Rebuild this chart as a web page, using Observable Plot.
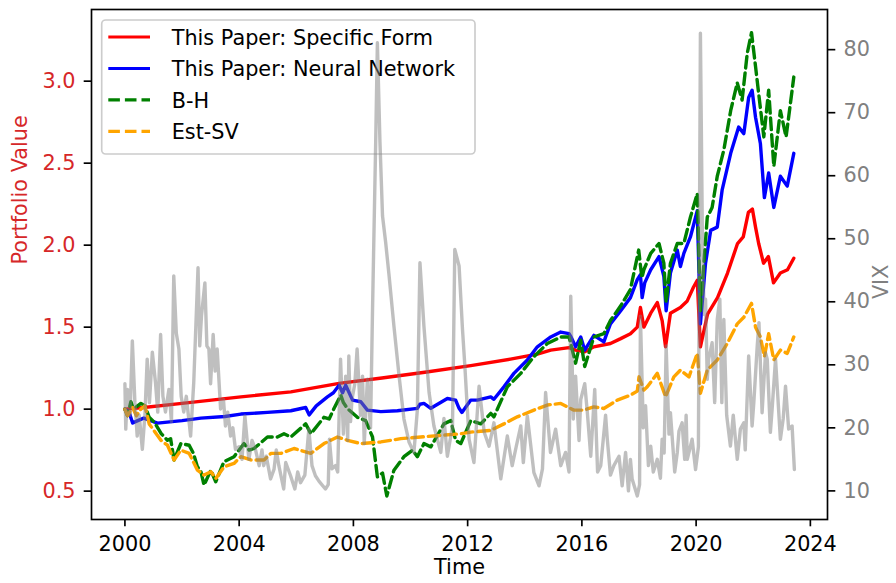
<!DOCTYPE html>
<html><head><meta charset="utf-8">
<script src="https://cdn.jsdelivr.net/npm/d3@7"></script>
<script src="https://cdn.jsdelivr.net/npm/@observablehq/plot@0.6"></script>
<style>body{margin:0;background:#fff;} #chart{width:896px;height:583px;}</style>
</head><body><div id="chart"></div>
<script>
// ---- data ----
const seriesNames = ["This Paper: Specific Form", "This Paper: Neural Network", "B-H", "Est-SV"];

const specificT = [2000.0, 2000.66, 2002.0, 2004.06, 2005.81, 2007.5, 2009.0, 2010.5, 2012.11, 2013.5, 2014.44, 2014.91, 2015.55, 2015.78, 2016.1, 2016.42, 2017.0, 2017.36, 2017.7, 2017.94, 2018.05, 2018.17, 2018.41, 2018.64, 2018.81, 2018.93, 2019.1, 2019.45, 2019.69, 2019.91, 2020.04, 2020.15, 2020.4, 2020.75, 2021.1, 2021.45, 2021.65, 2021.83, 2021.97, 2022.08, 2022.19, 2022.36, 2022.53, 2022.71, 2022.95, 2023.2, 2023.42];
const specificV = [1.0, 1.01, 1.035, 1.075, 1.105, 1.157, 1.19, 1.225, 1.265, 1.305, 1.335, 1.36, 1.375, 1.36, 1.35, 1.38, 1.40, 1.43, 1.46, 1.50, 1.62, 1.50, 1.585, 1.65, 1.54, 1.38, 1.585, 1.62, 1.66, 1.745, 1.785, 1.38, 1.58, 1.68, 1.83, 2.01, 2.05, 2.20, 2.22, 2.11, 2.01, 1.89, 1.93, 1.77, 1.83, 1.85, 1.92];

const neuralT = [2000.0, 2000.15, 2000.27, 2000.45, 2000.66, 2000.9, 2001.14, 2002.0, 2002.66, 2003.5, 2004.06, 2004.99, 2005.81, 2006.33, 2006.45, 2006.7, 2007.09, 2007.3, 2007.5, 2007.62, 2007.73, 2007.97, 2008.26, 2008.49, 2008.96, 2009.54, 2010.24, 2010.33, 2010.47, 2010.71, 2011.29, 2011.58, 2011.7, 2011.8, 2012.11, 2012.34, 2012.81, 2012.92, 2013.27, 2013.62, 2014.09, 2014.44, 2014.91, 2015.26, 2015.55, 2015.62, 2015.78, 2015.96, 2016.1, 2016.42, 2016.77, 2016.85, 2017.0, 2017.36, 2017.7, 2017.94, 2018.05, 2018.11, 2018.2, 2018.41, 2018.7, 2018.87, 2018.95, 2019.1, 2019.34, 2019.45, 2019.57, 2019.8, 2020.04, 2020.15, 2020.33, 2020.51, 2020.74, 2020.91, 2021.21, 2021.49, 2021.67, 2021.84, 2021.96, 2022.08, 2022.25, 2022.39, 2022.54, 2022.72, 2022.95, 2023.19, 2023.42];
const neuralV = [1.0, 0.98, 0.915, 0.93, 0.945, 0.93, 0.915, 0.93, 0.945, 0.955, 0.97, 0.98, 0.99, 1.01, 0.965, 1.02, 1.075, 1.10, 1.146, 1.10, 1.146, 1.055, 1.045, 0.994, 0.985, 0.99, 1.005, 1.03, 1.035, 1.005, 1.065, 1.055, 1.005, 0.98, 1.055, 1.055, 1.075, 1.06, 1.136, 1.218, 1.30, 1.38, 1.44, 1.47, 1.46, 1.44, 1.38, 1.44, 1.36, 1.45, 1.41, 1.45, 1.52, 1.60, 1.68, 1.79, 1.82, 1.68, 1.77, 1.85, 1.93, 1.81, 1.60, 1.83, 1.97, 1.87, 1.95, 2.05, 2.21, 1.52, 1.89, 2.09, 2.11, 2.335, 2.56, 2.72, 2.68, 2.90, 2.945, 2.78, 2.62, 2.29, 2.44, 2.23, 2.42, 2.36, 2.56];

const bhT = [2000.0, 2000.09, 2000.21, 2000.3, 2000.56, 2000.7, 2000.85, 2001.03, 2001.26, 2001.49, 2001.6, 2001.72, 2001.96, 2002.25, 2002.4, 2002.54, 2002.66, 2002.77, 2003.01, 2003.18, 2003.47, 2003.82, 2004.17, 2004.35, 2004.52, 2004.99, 2005.34, 2005.57, 2005.81, 2006.33, 2006.51, 2006.97, 2007.15, 2007.32, 2007.56, 2007.65, 2007.79, 2008.14, 2008.43, 2008.67, 2008.84, 2009.02, 2009.17, 2009.42, 2009.77, 2010.07, 2010.24, 2010.47, 2010.71, 2011.17, 2011.41, 2011.58, 2011.76, 2012.11, 2012.46, 2012.81, 2012.92, 2013.39, 2013.86, 2014.32, 2014.79, 2015.26, 2015.55, 2015.78, 2015.96, 2016.1, 2016.42, 2016.77, 2017.0, 2017.36, 2017.7, 2017.99, 2018.1, 2018.17, 2018.41, 2018.7, 2018.87, 2018.95, 2019.1, 2019.34, 2019.57, 2019.8, 2020.04, 2020.15, 2020.39, 2020.56, 2020.74, 2020.97, 2021.21, 2021.44, 2021.61, 2021.79, 2021.94, 2022.08, 2022.19, 2022.37, 2022.54, 2022.72, 2022.95, 2023.15, 2023.42];
const bhV = [1.0, 0.96, 1.045, 1.0, 1.035, 1.02, 0.95, 0.92, 0.853, 0.81, 0.82, 0.69, 0.79, 0.78, 0.73, 0.648, 0.62, 0.537, 0.628, 0.557, 0.68, 0.71, 0.79, 0.75, 0.76, 0.83, 0.83, 0.85, 0.83, 0.91, 0.85, 0.95, 0.94, 1.004, 1.085, 1.04, 1.004, 0.95, 0.93, 0.83, 0.587, 0.61, 0.47, 0.628, 0.71, 0.75, 0.71, 0.79, 0.77, 0.91, 0.93, 0.81, 0.79, 0.93, 0.91, 0.974, 0.953, 1.136, 1.218, 1.32, 1.40, 1.44, 1.44, 1.28, 1.42, 1.26, 1.44, 1.46, 1.54, 1.63, 1.73, 1.97, 1.80, 1.85, 1.95, 2.01, 1.89, 1.65, 1.89, 2.01, 2.01, 2.17, 2.315, 1.60, 2.17, 2.23, 2.42, 2.58, 2.82, 2.99, 2.885, 3.17, 3.296, 3.09, 2.925, 2.66, 2.945, 2.48, 2.82, 2.66, 3.025];

const estT = [2000.0, 2000.09, 2000.27, 2000.4, 2000.56, 2000.7, 2000.85, 2001.26, 2001.49, 2001.72, 2001.96, 2002.25, 2002.54, 2002.77, 2003.01, 2003.18, 2003.47, 2003.82, 2004.06, 2004.41, 2004.87, 2005.11, 2005.46, 2005.92, 2006.51, 2006.97, 2007.44, 2007.79, 2008.26, 2008.96, 2009.66, 2010.36, 2011.06, 2011.76, 2012.11, 2012.81, 2013.27, 2013.74, 2014.32, 2014.79, 2015.26, 2015.72, 2016.07, 2016.42, 2016.77, 2017.24, 2017.7, 2017.94, 2018.0, 2018.17, 2018.29, 2018.64, 2018.93, 2019.22, 2019.45, 2019.75, 2020.04, 2020.15, 2020.39, 2020.74, 2021.09, 2021.44, 2021.67, 2021.94, 2022.08, 2022.25, 2022.39, 2022.54, 2022.72, 2022.95, 2023.19, 2023.42];
const estV = [1.0, 0.96, 1.01, 0.96, 1.0, 1.02, 0.91, 0.81, 0.78, 0.69, 0.75, 0.73, 0.628, 0.598, 0.618, 0.577, 0.648, 0.669, 0.71, 0.69, 0.69, 0.73, 0.73, 0.76, 0.73, 0.79, 0.83, 0.81, 0.79, 0.80, 0.82, 0.83, 0.84, 0.85, 0.86, 0.87, 0.91, 0.953, 0.994, 1.025, 1.035, 0.994, 0.994, 1.014, 1.004, 1.055, 1.085, 1.11, 1.197, 1.116, 1.136, 1.218, 1.075, 1.197, 1.238, 1.197, 1.34, 1.096, 1.238, 1.30, 1.40, 1.52, 1.56, 1.645, 1.50, 1.44, 1.32, 1.46, 1.30, 1.36, 1.34, 1.44];

const vixT = [2000.00, 2000.03, 2000.09, 2000.18, 2000.26, 2000.35, 2000.43, 2000.50, 2000.61, 2000.70, 2000.78, 2000.86, 2000.96, 2001.07, 2001.15, 2001.25, 2001.33, 2001.42, 2001.54, 2001.63, 2001.71, 2001.80, 2001.89, 2001.97, 2002.06, 2002.15, 2002.30, 2002.41, 2002.56, 2002.62, 2002.68, 2002.80, 2002.87, 2002.94, 2003.00, 2003.09, 2003.16, 2003.23, 2003.35, 2003.45, 2003.52, 2003.60, 2003.70, 2003.78, 2003.87, 2004.00, 2004.10, 2004.20, 2004.34, 2004.45, 2004.57, 2004.70, 2004.80, 2004.86, 2004.95, 2005.10, 2005.22, 2005.30, 2005.39, 2005.56, 2005.63, 2005.80, 2005.95, 2006.05, 2006.15, 2006.30, 2006.44, 2006.55, 2006.67, 2006.80, 2007.02, 2007.12, 2007.16, 2007.25, 2007.37, 2007.45, 2007.55, 2007.65, 2007.73, 2007.80, 2007.84, 2007.90, 2007.95, 2008.05, 2008.13, 2008.25, 2008.32, 2008.38, 2008.49, 2008.60, 2008.67, 2008.78, 2008.84, 2008.93, 2009.02, 2009.13, 2009.25, 2009.42, 2009.60, 2009.77, 2009.95, 2010.12, 2010.24, 2010.33, 2010.47, 2010.65, 2010.82, 2011.06, 2011.17, 2011.29, 2011.47, 2011.55, 2011.70, 2011.82, 2011.90, 2012.05, 2012.22, 2012.40, 2012.58, 2012.75, 2012.92, 2013.16, 2013.39, 2013.56, 2013.70, 2013.86, 2013.95, 2014.09, 2014.32, 2014.50, 2014.62, 2014.73, 2014.90, 2015.08, 2015.26, 2015.43, 2015.55, 2015.61, 2015.70, 2015.78, 2015.90, 2015.96, 2016.10, 2016.19, 2016.31, 2016.45, 2016.55, 2016.66, 2016.83, 2016.89, 2017.00, 2017.12, 2017.30, 2017.41, 2017.53, 2017.63, 2017.70, 2017.76, 2017.94, 2018.02, 2018.05, 2018.15, 2018.23, 2018.33, 2018.41, 2018.50, 2018.64, 2018.75, 2018.81, 2018.88, 2018.95, 2019.05, 2019.10, 2019.25, 2019.34, 2019.40, 2019.51, 2019.60, 2019.65, 2019.69, 2019.86, 2019.98, 2020.08, 2020.15, 2020.22, 2020.28, 2020.33, 2020.39, 2020.44, 2020.56, 2020.65, 2020.74, 2020.83, 2020.90, 2020.97, 2021.07, 2021.20, 2021.30, 2021.44, 2021.55, 2021.67, 2021.72, 2021.84, 2021.96, 2022.02, 2022.14, 2022.20, 2022.31, 2022.43, 2022.49, 2022.60, 2022.66, 2022.78, 2022.86, 2022.95, 2023.05, 2023.13, 2023.24, 2023.36, 2023.44];
const vixV = [27.0, 19.8, 26.1, 22.0, 33.8, 24.0, 18.7, 22.0, 16.6, 22.0, 30.9, 24.0, 32.0, 27.2, 22.5, 34.8, 25.0, 22.5, 26.1, 21.0, 44.1, 35.0, 32.5, 25.0, 22.5, 25.0, 18.7, 27.2, 45.4, 33.0, 37.7, 43.0, 33.0, 32.5, 27.0, 34.8, 29.0, 32.5, 23.0, 24.5, 20.3, 22.5, 18.7, 20.0, 16.6, 17.0, 15.0, 21.9, 15.0, 18.0, 16.6, 14.0, 16.5, 14.0, 15.5, 11.9, 13.4, 16.5, 14.0, 10.3, 14.5, 12.4, 10.3, 13.0, 11.3, 12.5, 19.8, 14.0, 12.4, 11.5, 10.3, 11.0, 18.2, 13.5, 14.0, 13.0, 30.9, 19.0, 28.2, 18.0, 31.4, 21.0, 24.5, 27.0, 32.5, 22.0, 28.2, 17.5, 27.7, 20.0, 38.8, 65.2, 81.1, 65.3, 53.6, 49.4, 44.1, 36.1, 28.2, 21.4, 17.7, 16.1, 22.9, 46.2, 36.1, 25.6, 20.3, 16.1, 21.5, 15.5, 20.3, 48.3, 45.7, 35.6, 30.0, 18.2, 14.5, 26.6, 19.3, 17.1, 20.8, 11.9, 18.7, 14.0, 17.0, 20.3, 14.5, 21.9, 12.9, 10.8, 13.5, 25.6, 16.1, 19.8, 14.0, 16.1, 13.0, 40.9, 21.4, 28.2, 18.0, 24.5, 27.0, 22.5, 15.5, 26.1, 13.0, 14.0, 22.0, 18.2, 12.5, 14.0, 15.5, 10.8, 16.1, 10.0, 15.0, 11.9, 9.2, 11.0, 37.7, 20.0, 23.5, 14.0, 17.1, 13.0, 15.0, 12.0, 18.2, 16.0, 33.0, 19.0, 22.4, 13.0, 16.1, 19.5, 20.8, 15.0, 22.0, 15.0, 18.2, 13.4, 17.0, 82.6, 50.0, 38.0, 40.4, 27.7, 30.9, 33.5, 24.0, 37.2, 40.4, 24.0, 37.2, 22.0, 17.1, 22.0, 15.0, 19.8, 20.8, 16.5, 31.4, 20.3, 24.0, 33.0, 36.7, 22.4, 31.9, 30.9, 19.3, 22.9, 30.9, 25.0, 18.2, 21.5, 26.6, 19.8, 20.3, 13.4];

const xTicks = [2000, 2004, 2008, 2012, 2016, 2020, 2024];
const leftTicks = [0.5, 1.0, 1.5, 2.0, 2.5, 3.0];
const vixTicks = [10, 20, 30, 40, 50, 60, 70, 80];

// ---- scales (matplotlib-like 5% margins) ----
const X0 = 1998.83, X1 = 2024.6;
const Y0 = 0.327, Y1 = 3.437;
const V0 = 5.46, V1 = 86.37;
const toP = v => Y0 + (v - V0) * (Y1 - Y0) / (V1 - V0);
const fromP = p => V0 + (p - Y0) * (V1 - V0) / (Y1 - Y0);

const rows = (T, V) => T.map((t, i) => ({t, v: V[i]}));
const specific = rows(specificT, specificV);
const neural = rows(neuralT, neuralV);
const bh = rows(bhT, bhV);
const est = rows(estT, estV);
const vix = rows(vixT, vixV);

const colors = ["red", "blue", "green", "orange"];
const dashes = [null, null, "11.6,5", "11.6,5"];
const LW = 3.1;
const DLW = 3.4;
const font = "'DejaVu Sans', sans-serif";

const plot = Plot.plot({
  width: 896, height: 583,
  marginLeft: 91, marginRight: 69, marginTop: 9, marginBottom: 64,
  style: {fontFamily: font, fontSize: "20.8px", background: "white", overflow: "visible", color: "black"},
  x: {domain: [X0, X1]},
  y: {domain: [Y0, Y1]},
  marks: [
    Plot.line(specific, {x: "t", y: "v", stroke: colors[0], strokeWidth: DLW}),
    Plot.line(neural, {x: "t", y: "v", stroke: colors[1], strokeWidth: DLW}),
    Plot.line(bh, {x: "t", y: "v", stroke: colors[2], strokeWidth: DLW, strokeDasharray: dashes[2]}),
    Plot.line(est, {x: "t", y: "v", stroke: colors[3], strokeWidth: DLW, strokeDasharray: dashes[3]}),
    Plot.line(vix, {x: "t", y: d => toP(d.v), stroke: "gray", strokeOpacity: 0.5, strokeWidth: DLW, ariaDescription: "vix"}),
    Plot.frame({stroke: "black", strokeWidth: 1.67}),
    Plot.axisX({ticks: xTicks, tickFormat: d => String(d), tickSize: 7.3, tickPadding: 9, strokeWidth: 1.67, stroke: "black", fill: "black", label: null}),
    Plot.axisY({anchor: "left", ticks: leftTicks, tickFormat: d3.format(".1f"), tickSize: 7.3, tickPadding: 8.7, strokeWidth: 1.67, stroke: "black", fill: "#d62728", label: null}),
    Plot.axisY({anchor: "right", ticks: vixTicks.map(toP), tickFormat: p => String(Math.round(fromP(p))), tickSize: 7.3, tickPadding: 8.7, strokeWidth: 1.67, stroke: "black", fill: "gray", label: null}),
    Plot.text(["Portfolio Value"], {text: d => d, frameAnchor: "left", dx: -71, rotate: -90, fill: "#d62728"}),
    Plot.text(["VIX"], {text: d => d, frameAnchor: "right", dx: 54, rotate: -90, fill: "gray"}),
    Plot.text(["Time"], {text: d => d, frameAnchor: "bottom", dy: 54, fill: "black"})
  ]
});

// legend (drawn under the VIX line, as in the reference)
const svg = d3.select(plot);
const lg = svg.insert("g", 'g[aria-description="vix"]').attr("class", "legend");
lg.append("rect").attr("x", 101.7).attr("y", 20).attr("width", 373.3).attr("height", 134)
  .attr("rx", 4).attr("fill", "white").attr("fill-opacity", 0.8)
  .attr("stroke", "#cccccc").attr("stroke-width", 1.67);
seriesNames.forEach((name, i) => {
  const base = 45 + i * 31.45;
  lg.append("line").attr("x1", 108.3).attr("x2", 150).attr("y1", base - 8).attr("y2", base - 8)
    .attr("stroke", colors[i]).attr("stroke-width", LW)
    .attr("stroke-dasharray", dashes[i]);
  lg.append("text").attr("x", 171.7).attr("y", base).attr("fill", "black")
    .attr("text-anchor", "start")
    .style("font-family", font).style("font-size", "20.8px").text(name);
});

document.getElementById("chart").appendChild(plot);
</script>
</body></html>
